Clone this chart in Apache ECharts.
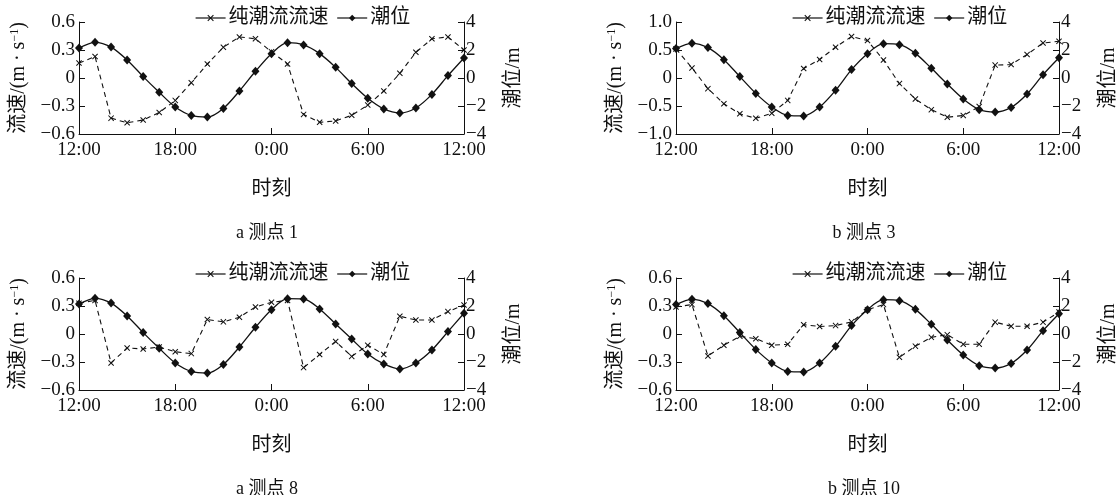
<!DOCTYPE html>
<html>
<head>
<meta charset="utf-8">
<script src="https://cdn.jsdelivr.net/npm/echarts@6/dist/echarts.min.js"></script>
<style>
html,body{margin:0;padding:0;background:#fff;}
#c{width:1120px;height:495px;}
</style>
</head>
<body>
<div id="c"></div>
<script>
// ---- data ----
const HOURS = [0,1,2,3,4,5,6,7,8,9,10,11,12,13,14,15,16,17,18,19,20,21,22,23,24];
const X_TICK_LABELS = {0:'12:00', 6:'18:00', 12:'0:00', 18:'6:00', 24:'12:00'};
const PANEL_TITLES = ['a 测点 1', 'b 测点 3', 'a 测点 8', 'b 测点 10'];
const SERIES_NAMES = ['纯潮流流速', '潮位'];

// 测点1
const vel1 = [0.16,0.23,-0.43,-0.48,-0.45,-0.37,-0.24,-0.05,0.15,0.33,0.44,0.42,0.28,0.15,-0.39,-0.475,-0.46,-0.40,-0.29,-0.14,0.05,0.275,0.42,0.44,0.30];
const tide1 = [2.14,2.55,2.21,1.29,0.10,-1.02,-2.07,-2.67,-2.79,-2.17,-0.93,0.48,1.74,2.52,2.36,1.74,0.76,-0.40,-1.45,-2.21,-2.50,-2.14,-1.17,0.17,1.43];
// 测点3
const vel3 = [0.52,0.18,-0.19,-0.46,-0.64,-0.72,-0.63,-0.40,0.17,0.33,0.55,0.74,0.67,0.32,-0.10,-0.375,-0.565,-0.70,-0.67,-0.51,0.23,0.24,0.42,0.625,0.655];
const tide3 = [2.10,2.48,2.17,1.31,0.10,-1.10,-2.07,-2.67,-2.71,-2.07,-0.88,0.60,1.74,2.45,2.38,1.76,0.69,-0.43,-1.50,-2.26,-2.43,-2.10,-1.14,0.24,1.45];
// 测点8
const vel8 = [0.33,0.36,-0.31,-0.15,-0.16,-0.14,-0.19,-0.21,0.155,0.13,0.18,0.29,0.34,0.36,-0.36,-0.22,-0.08,-0.24,-0.12,-0.22,0.19,0.15,0.15,0.24,0.31];
const tide8 = [2.14,2.55,2.21,1.29,0.10,-1.02,-2.07,-2.67,-2.79,-2.17,-0.93,0.48,1.74,2.52,2.50,1.79,0.71,-0.36,-1.43,-2.14,-2.50,-2.07,-1.14,0.17,1.48];
// 测点10
const vel10 = [0.29,0.315,-0.235,-0.12,-0.025,-0.05,-0.12,-0.11,0.10,0.08,0.09,0.13,0.26,0.315,-0.25,-0.13,-0.036,-0.007,-0.11,-0.11,0.127,0.083,0.083,0.127,0.235];
const tide10 = [2.10,2.48,2.17,1.31,0.10,-1.10,-2.07,-2.67,-2.71,-2.07,-0.88,0.60,1.74,2.45,2.38,1.76,0.69,-0.43,-1.50,-2.26,-2.43,-2.10,-1.14,0.24,1.45];

const PANELS = [
  {vel: vel1, tide: tide1, vmax: 0.6, vint: 0.3},
  {vel: vel3, tide: tide3, vmax: 1.0, vint: 0.5},
  {vel: vel8, tide: tide8, vmax: 0.6, vint: 0.3},
  {vel: vel10, tide: tide10, vmax: 0.6, vint: 0.3}
];

// ---- layout / style ----
const FONT = '"Liberation Serif", "Noto Sans CJK SC", serif';
const INK = '#111';
const POS = [
  {left: 79, top: 22},
  {left: 676, top: 22},
  {left: 79, top: 278},
  {left: 676, top: 278}
];
const GW = 385, GH = 112;
const CROSS = 'path://M0,1.2L1.2,0L5,3.8L8.8,0L10,1.2L6.2,5L10,8.8L8.8,10L5,6.2L1.2,10L0,8.8L3.8,5Z';

function fmtNum(v, dec) {
  const r = Math.round(v * 1000) / 1000;
  if (Math.abs(r) < 1e-9) return '0';
  const s = Math.abs(r).toFixed(dec);
  return (r < 0 ? '\u2212' : '') + s;
}

const grid = [], xAxis = [], yAxis = [], series = [], legend = [], title = [];

PANELS.forEach((p, i) => {
  const pos = POS[i];
  grid.push({left: pos.left, top: pos.top, width: GW, height: GH, containLabel: false});
  xAxis.push({
    type: 'value', gridIndex: i, min: 0, max: 24, interval: 6,
    name: '时刻', nameLocation: 'middle', nameGap: 46,
    nameTextStyle: {fontFamily: FONT, fontSize: 20, color: INK},
    axisLine: {show: true, onZero: false, lineStyle: {color: INK, width: 1}},
    axisTick: {show: true, inside: true, length: 6, lineStyle: {color: INK}},
    splitLine: {show: false},
    axisLabel: {fontFamily: FONT, fontSize: 19, color: INK, margin: 7,
      formatter: v => X_TICK_LABELS[v] !== undefined ? X_TICK_LABELS[v] : ''}
  });
  yAxis.push({
    type: 'value', gridIndex: i, min: -p.vmax, max: p.vmax, interval: p.vint,
    position: 'left',
    name: '{a|流速/(m · s}{s|−1}{a|)}', nameLocation: 'middle', nameGap: 50, nameRotate: 90,
    nameTextStyle: {rich: {
      a: {fontFamily: FONT, fontSize: 20, color: INK},
      s: {fontFamily: FONT, fontSize: 12, color: INK, verticalAlign: 'top', padding: [0,0,8,0]}
    }},
    axisLine: {show: true, onZero: false, lineStyle: {color: INK, width: 1}},
    axisTick: {show: true, inside: true, length: 6, lineStyle: {color: INK}},
    splitLine: {show: false},
    axisLabel: {fontFamily: FONT, fontSize: 19, color: INK, margin: 4,
      formatter: v => fmtNum(v, 1)}
  });
  yAxis.push({
    type: 'value', gridIndex: i, min: -4, max: 4, interval: 2,
    position: 'right',
    name: '潮位/m', nameLocation: 'middle', nameGap: 40, nameRotate: 90,
    nameTextStyle: {fontFamily: FONT, fontSize: 20, color: INK},
    axisLine: {show: true, onZero: false, lineStyle: {color: INK, width: 1}},
    axisTick: {show: true, inside: true, length: 6, lineStyle: {color: INK}},
    splitLine: {show: false},
    axisLabel: {fontFamily: FONT, fontSize: 19, color: INK, margin: 2,
      formatter: v => fmtNum(v, 0)}
  });
  series.push({
    name: SERIES_NAMES[0], type: 'line', xAxisIndex: i, yAxisIndex: 2 * i,
    data: HOURS.map((h, k) => [h, p.vel[k]]),
    symbol: CROSS, symbolSize: 6, showAllSymbol: true,
    lineStyle: {color: INK, width: 1.1, type: [5, 4]},
    itemStyle: {color: INK},
    z: 3
  });
  series.push({
    name: SERIES_NAMES[1], type: 'line', xAxisIndex: i, yAxisIndex: 2 * i + 1,
    data: HOURS.map((h, k) => [h, p.tide[k]]),
    symbol: 'diamond', symbolSize: [8, 9], smooth: 0.3, showAllSymbol: true,
    lineStyle: {color: INK, width: 1.3, type: 'solid'},
    itemStyle: {color: INK},
    z: 4
  });
  legend.push({
    left: pos.left + 111, top: pos.top - 19,
    data: SERIES_NAMES, itemWidth: 30, itemHeight: 8, itemGap: 8,
    lineStyle: {type: 'solid', width: 1.2},
    textStyle: {fontFamily: FONT, fontSize: 20, color: INK, padding: [0, 0, 0, -2]},
    selectedMode: false
  });
  title.push({
    text: PANEL_TITLES[i], left: pos.left + 183, top: pos.top + 197,
    textAlign: 'center',
    textStyle: {fontFamily: FONT, fontSize: 18, fontWeight: 'normal', color: INK}
  });
});

const chart = echarts.init(document.getElementById('c'), null, {renderer: 'canvas'});
chart.setOption({
  backgroundColor: '#fff',
  animation: false,
  title, legend, grid, xAxis, yAxis, series
});
</script>
</body>
</html>
